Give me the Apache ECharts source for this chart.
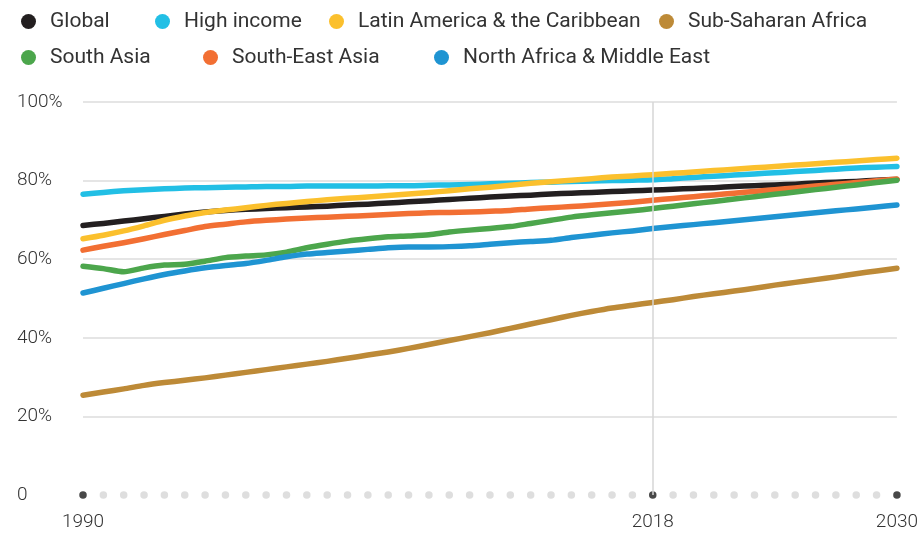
<!DOCTYPE html>
<html>
<head>
<meta charset="utf-8">
<script src="https://cdn.jsdelivr.net/npm/echarts@6/dist/echarts.min.js"></script>
<style>
  html, body { margin: 0; padding: 0; background: #fff; overflow: hidden; }
  #chart { width: 921px; height: 535px; }
</style>
</head>
<body>
<div id="chart"></div>
<script>
// Share of the population (%) by region, 1990 to 2030
const years = ['1990','1991','1992','1993','1994','1995','1996','1997','1998','1999',
  '2000','2001','2002','2003','2004','2005','2006','2007','2008','2009',
  '2010','2011','2012','2013','2014','2015','2016','2017','2018','2019',
  '2020','2021','2022','2023','2024','2025','2026','2027','2028','2029','2030'];
const labelledYears = ['1990', '2018', '2030'];
const markerYear = '2018';
const yTicks = [0, 20, 40, 60, 80, 100];

const global = [68.6,69.1,69.7,70.3,70.9,71.5,72.0,72.4,72.7,72.9,73.1,73.3,73.5,73.8,74.0,74.3,74.6,74.9,75.2,75.5,
  75.8,76.1,76.3,76.6,76.8,77.0,77.2,77.4,77.6,77.8,78.0,78.2,78.5,78.7,78.9,79.1,79.4,79.6,79.8,80.1,80.3];
const highIncome = [76.5,77.0,77.4,77.7,77.9,78.1,78.2,78.3,78.4,78.5,78.5,78.6,78.6,78.6,78.6,78.7,78.7,78.8,78.9,79.0,
  79.2,79.3,79.5,79.6,79.8,79.9,80.0,80.1,80.2,80.5,80.8,81.1,81.4,81.7,82.0,82.3,82.6,82.9,83.2,83.4,83.6];
const latinAmerica = [65.2,66.1,67.2,68.5,69.9,71.0,71.9,72.5,73.1,73.7,74.2,74.7,75.1,75.5,75.8,76.2,76.6,77.0,77.4,77.9,
  78.3,78.8,79.3,79.7,80.1,80.5,80.9,81.2,81.5,81.85,82.2,82.55,82.9,83.25,83.6,83.95,84.3,84.65,85.0,85.35,85.7];
const subSaharan = [25.4,26.2,27.0,27.9,28.6,29.2,29.8,30.5,31.2,31.9,32.6,33.3,34.0,34.8,35.6,36.4,37.3,38.3,39.3,40.3,
  41.3,42.4,43.5,44.6,45.7,46.7,47.6,48.3,49.0,49.7,50.5,51.2,51.9,52.6,53.4,54.1,54.8,55.5,56.3,57.0,57.7];
const southAsia = [58.2,57.6,56.8,57.8,58.5,58.7,59.5,60.4,60.8,61.1,61.8,62.9,63.8,64.6,65.2,65.7,65.9,66.2,66.9,67.4,
  67.8,68.3,69.1,69.9,70.7,71.3,71.8,72.3,72.9,73.5,74.1,74.7,75.3,75.9,76.5,77.1,77.7,78.3,78.9,79.5,80.1];
const southEastAsia = [62.3,63.3,64.2,65.2,66.3,67.3,68.3,68.9,69.5,69.9,70.2,70.5,70.7,70.9,71.1,71.4,71.6,71.8,71.9,72.0,
  72.2,72.4,72.8,73.1,73.4,73.7,74.1,74.5,75.0,75.45,75.9,76.35,76.8,77.25,77.7,78.15,78.6,79.05,79.5,79.95,80.4];
const northAfrica = [51.4,52.6,53.8,55.0,56.1,57.0,57.8,58.4,58.9,59.7,60.6,61.3,61.7,62.1,62.5,62.9,63.1,63.1,63.2,63.4,
  63.8,64.2,64.5,64.8,65.5,66.1,66.7,67.2,67.8,68.3,68.8,69.3,69.8,70.3,70.8,71.3,71.8,72.3,72.8,73.3,73.8];

const regions = [
  { name: 'Global', data: global, color: '#231f20', legend: [16, 6] },
  { name: 'High income', data: highIncome, color: '#22bfe5', legend: [150, 6] },
  { name: 'Latin America & the Caribbean', data: latinAmerica, color: '#fbc02d', legend: [324, 6] },
  { name: 'Sub-Saharan Africa', data: subSaharan, color: '#bd8a37', legend: [654, 6] },
  { name: 'South-East Asia', data: southEastAsia, color: '#f26f33', legend: [198, 42] },
  { name: 'South Asia', data: southAsia, color: '#4ca64c', legend: [16, 42] },
  { name: 'North Africa & Middle East', data: northAfrica, color: '#1f94d2', legend: [429, 42] }
];

const textFont = 'Roboto, "Noto Sans", sans-serif';

const chart = echarts.init(document.getElementById('chart'), null, { renderer: 'canvas' });

const option = {
  animation: false,
  backgroundColor: '#ffffff',
  legend: regions.map(r => ({
    data: [r.name],
    left: r.legend[0],
    top: r.legend[1],
    icon: 'circle',
    itemWidth: 15,
    itemHeight: 15,
    selectedMode: false,
    textStyle: {
      fontFamily: textFont,
      fontSize: 21,
      color: '#333333',
      padding: [0, 0, 0, 9]
    }
  })),
  grid: { left: 83, right: 18, top: 102, bottom: 40, containLabel: false },
  xAxis: {
    type: 'category',
    data: years,
    boundaryGap: false,
    axisLine: { show: false },
    axisTick: { show: false },
    splitLine: { show: false },
    axisLabel: {
      margin: 18,
      fontFamily: textFont,
      fontWeight: 300,
      fontSize: 19,
      color: '#333333',
      interval: (i, v) => labelledYears.includes(v),
      formatter: v => v
    }
  },
  yAxis: {
    type: 'value',
    min: yTicks[0],
    max: yTicks[yTicks.length - 1],
    interval: 20,
    axisLine: { show: false },
    axisTick: { show: false },
    axisLabel: {
      align: 'left',
      margin: 66,
      fontFamily: textFont,
      fontWeight: 300,
      fontSize: 19,
      color: '#333333',
      formatter: v => (v === 0 ? '0' : v + '%')
    },
    splitLine: {
      lineStyle: {
        color: ['rgba(0,0,0,0)', '#dcdcdc', '#dcdcdc', '#dcdcdc', '#dcdcdc', '#dcdcdc'],
        width: 1.5
      }
    }
  },
  series: [
    {
      // year markers along the baseline, plus the 2018 reference line
      type: 'scatter',
      z: 1,
      silent: true,
      symbol: 'circle',
      symbolSize: 7.5,
      data: years.map(y => [y, 0]),
      itemStyle: {
        color: p => (labelledYears.includes(p.value[0]) ? '#1a1a1a' : '#d6d6d6')
      },
      markLine: {
        silent: true,
        symbol: 'none',
        label: { show: false },
        lineStyle: { color: '#d6d6d6', width: 1.5, type: 'solid' },
        data: [{ xAxis: markerYear }]
      }
    }
  ].concat(regions.map(r => ({
    type: 'line',
    name: r.name,
    z: 2,
    data: r.data,
    smooth: 0.25,
    symbol: 'none',
    showSymbol: false,
    color: r.color,
    lineStyle: { width: 5.5, color: r.color, cap: 'round', join: 'round' },
    emphasis: { disabled: true }
  })))
};

chart.setOption(option);
</script>
</body>
</html>
